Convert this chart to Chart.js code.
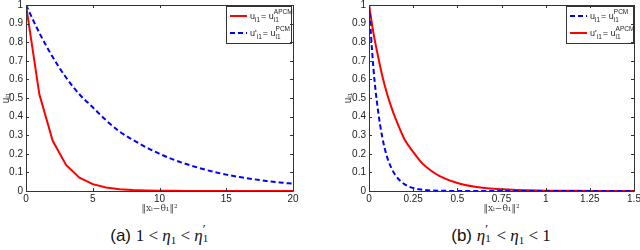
<!DOCTYPE html>
<html>
<head>
<meta charset="utf-8">
<script src="https://cdn.jsdelivr.net/npm/chart.js@4/dist/chart.umd.min.js"></script>
<style>
  body { margin: 0; background: #fff; width: 640px; height: 250px; position: relative; overflow: hidden; }
  .box { position: absolute; top: 0; width: 320px; height: 215px; }
  .cap { position: absolute; top: 224px; font: 17px "Liberation Sans", Arial, sans-serif; color: #111; white-space: nowrap; transform: translateX(-50%); }
  .cap .m { font-family: "Liberation Serif", "DejaVu Serif", serif; }
  .cap i { font-family: "Liberation Serif", "DejaVu Serif", serif; }
  .cap sub { font-size: 11px; vertical-align: -3px; }
  .cap .ss { display: inline-block; position: relative; width: 7px; height: 1em; vertical-align: baseline; }
  .cap .ss .p { position: absolute; left: 0; top: -3px; font-size: 13px; }
  .cap .ss .b { position: absolute; left: 0; top: 8px; font-size: 11px; }
</style>
</head>
<body>
<div class="box" style="left:0"><canvas id="left"></canvas></div>
<div class="box" style="left:320px"><canvas id="right"></canvas></div>
<div class="cap" style="left:160px">(a) <span class="m">1 &lt; <i>η</i><sub>1</sub> &lt; <i>η</i><span class="ss"><span class="p">′</span><span class="b">1</span></span></span></div>
<div class="cap" style="left:501px">(b) <span class="m"><i>η</i><span class="ss"><span class="p">′</span><span class="b">1</span></span> &lt; <i>η</i><sub>1</sub> &lt; 1</span></div>
<script>
// (a) 1 < eta1 < eta1'
const xLeft = [0, 1, 2, 3, 4, 5, 6, 7, 8, 9, 10, 11, 12, 13, 14, 15, 16, 17, 18, 19, 20];
const apcmLeft = [1, 0.52, 0.27, 0.14, 0.072, 0.037, 0.019, 0.01, 0.005, 0.0026, 0.0013, 0.0007, 0.0004, 0.0002, 0.0001, 0, 0, 0, 0, 0, 0];
const pcmLeft = [1, 0.85, 0.72, 0.61, 0.52, 0.45, 0.38, 0.32, 0.275, 0.235, 0.2, 0.17, 0.145, 0.123, 0.104, 0.088, 0.075, 0.064, 0.054, 0.046, 0.039];
const xTicksLeft = [0, 5, 10, 15, 20];

// (b) eta1' < eta1 < 1
const xRight = [0, 0.025, 0.05, 0.075, 0.1, 0.125, 0.15, 0.2, 0.25, 0.3, 0.35, 0.4, 0.5, 0.6, 0.75, 1, 1.25, 1.5];
const pcmRight = [1, 0.66, 0.44, 0.29, 0.19, 0.127, 0.084, 0.037, 0.016, 0.007, 0.003, 0.0013, 0.0003, 0, 0, 0, 0, 0];
const apcmRight = [1, 0.85, 0.73, 0.62, 0.53, 0.455, 0.39, 0.28, 0.21, 0.15, 0.11, 0.08, 0.043, 0.023, 0.009, 0.002, 0.0005, 0];
const xTicksRight = [0, 0.25, 0.5, 0.75, 1, 1.25, 1.5];

const yTicks = [0, 0.1, 0.2, 0.3, 0.4, 0.5, 0.6, 0.7, 0.8, 0.9, 1];

const FONT = '"Liberation Sans", Arial, sans-serif';
const RED = '#ff0000', BLUE = '#0000ff';

function pts(xs, ys) {
  return xs.map((x, i) => ({ x: x, y: ys[i] }));
}

// MATLAB-like box with inward ticks on all four sides
const framePlugin = {
  id: 'frame',
  afterDraw(chart) {
    const ctx = chart.ctx, a = chart.chartArea;
    const xs = chart.scales.x, ys = chart.scales.y;
    ctx.save();
    ctx.strokeStyle = '#333';
    ctx.lineWidth = 1;
    ctx.beginPath();
    ctx.rect(Math.round(a.left) + 0.5, Math.round(a.top) + 0.5, Math.round(a.right - a.left), Math.round(a.bottom - a.top));
    ctx.stroke();
    ctx.beginPath();
    xs.ticks.forEach(t => {
      const px = Math.round(xs.getPixelForValue(t.value)) + 0.5;
      ctx.moveTo(px, a.bottom); ctx.lineTo(px, a.bottom - 3);
      ctx.moveTo(px, a.top); ctx.lineTo(px, a.top + 3);
    });
    ys.ticks.forEach(t => {
      const py = Math.round(ys.getPixelForValue(t.value)) + 0.5;
      ctx.moveTo(a.left, py); ctx.lineTo(a.left + 3, py);
      ctx.moveTo(a.right, py); ctx.lineTo(a.right - 3, py);
    });
    ctx.stroke();
    ctx.restore();
  }
};

// legend with sub/superscripts: entries [{lhs, sup}]
const legendPlugin = {
  id: 'mathLegend',
  afterDatasetsDraw(chart, args, opts) {
    const ctx = chart.ctx, a = chart.chartArea;
    const w = opts.width, h = 37;
    const x0 = a.right - w - opts.right, y0 = a.top + 1;
    ctx.save();
    ctx.fillStyle = '#fff';
    ctx.fillRect(x0, y0, w, h);
    ctx.strokeStyle = '#333';
    ctx.lineWidth = 1;
    ctx.strokeRect(Math.round(x0) + 0.5, Math.round(y0) + 0.5, w, h);
    chart.data.datasets.forEach((ds, i) => {
      const e = opts.entries[i];
      const ly = y0 + 10 + i * 17;
      ctx.strokeStyle = ds.borderColor;
      ctx.lineWidth = 2;
      ctx.setLineDash(ds.borderDash || []);
      ctx.beginPath();
      ctx.moveTo(x0 + 4, ly); ctx.lineTo(x0 + 21, ly);
      ctx.stroke();
      ctx.setLineDash([]);
      ctx.fillStyle = '#222';
      ctx.textBaseline = 'alphabetic';
      let x = x0 + 24;
      const base = ly + 3;
      const piece = (txt, size, dy) => {
        ctx.font = size + 'px ' + FONT;
        ctx.fillText(txt, x, base + dy);
        return ctx.measureText(txt).width;
      };
      x += piece(e.lhs, 9, 0);
      x += piece('i1', 6.5, 3) + 1;
      x += piece('= u', 9, 0);
      const wSub = piece('i1', 6.5, 3);
      const wSup = piece(e.sup, 6.5, -5);
      x += Math.max(wSub, wSup);
    });
    ctx.restore();
  }
};

function makeChart(id, xs, series, xTicks, xMax, legendEntries, pad, legendOpts) {
  new Chart(document.getElementById(id), {
    type: 'line',
    data: {
      datasets: series.map(s => ({
        data: pts(xs, s.data),
        borderColor: s.color,
        borderWidth: 2,
        borderDash: s.dash,
        pointRadius: 0,
        tension: s.smooth ? 0.4 : 0,
        cubicInterpolationMode: s.smooth ? 'monotone' : 'default',
        fill: false
      }))
    },
    options: {
      animation: false,
      responsive: true,
      maintainAspectRatio: false,
      layout: { padding: { left: pad.left, right: pad.right, top: 5, bottom: 1 } },
      plugins: {
        legend: { display: false },
        tooltip: { enabled: false },
        mathLegend: Object.assign({ entries: legendEntries }, legendOpts)
      },
      scales: {
        x: {
          type: 'linear',
          min: 0,
          max: xMax,
          grid: { display: false, drawTicks: false },
          border: { display: false },
          afterBuildTicks: s => { s.ticks = xTicks.map(v => ({ value: v })); },
          afterFit: s => { s.height = 23; s.paddingLeft = 0; s.paddingRight = 0; },
          ticks: {
            color: '#222',
            padding: 2,
            maxRotation: 0,
            font: { family: FONT, size: 10 },
            callback: v => String(v)
          },
          title: {
            display: true,
            text: '‖xᵢ−θ₁‖²',
            color: '#444',
            padding: 0,
            font: { family: '"DejaVu Serif", serif', size: 9 }
          }
        },
        y: {
          min: 0,
          max: 1,
          grid: { display: false, drawTicks: false },
          border: { display: false },
          afterBuildTicks: s => { s.ticks = yTicks.map(v => ({ value: v })); },
          afterFit: s => { s.width = pad.yw; s.paddingTop = 0; s.paddingBottom = 0; },
          ticks: {
            color: '#222',
            padding: 3,
            font: { family: FONT, size: 10 },
            callback: v => String(v)
          },
          title: {
            display: true,
            text: 'uᵢ₁',
            color: '#222',
            padding: 0,
            font: { family: FONT, size: 10 }
          }
        }
      }
    },
    plugins: [legendPlugin, framePlugin]
  });
}

makeChart('left', xLeft,
  [
    { data: apcmLeft, color: RED, dash: [], smooth: false },
    { data: pcmLeft, color: BLUE, dash: [5, 3], smooth: true }
  ],
  xTicksLeft, 20,
  [{ lhs: 'u', sup: 'APCM' }, { lhs: "u'", sup: 'PCM' }],
  { left: 0, right: 27, yw: 26 },
  { width: 65, right: 2 });

makeChart('right', xRight,
  [
    { data: pcmRight, color: BLUE, dash: [5, 3], smooth: true },
    { data: apcmRight, color: RED, dash: [], smooth: true }
  ],
  xTicksRight, 1.5,
  [{ lhs: 'u', sup: 'PCM' }, { lhs: "u'", sup: 'APCM' }],
  { left: 22, right: 6, yw: 27 },
  { width: 67, right: 1 });
</script>
</body>
</html>
